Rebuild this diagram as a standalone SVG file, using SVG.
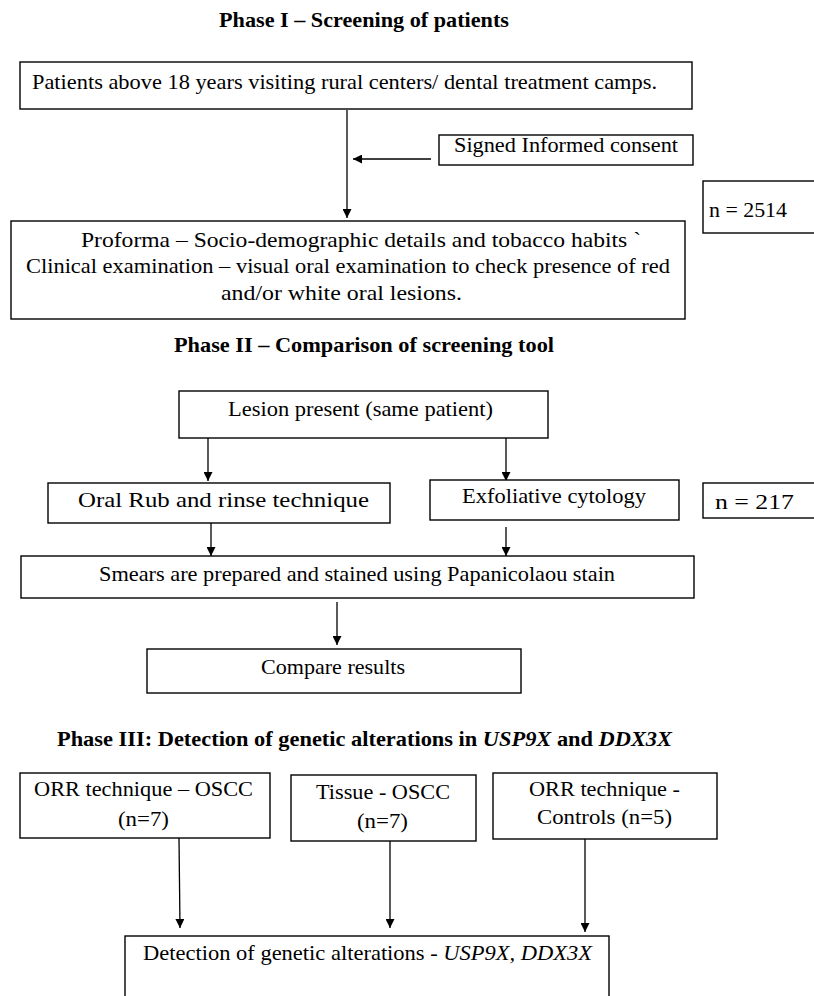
<svg xmlns="http://www.w3.org/2000/svg" width="814" height="996" viewBox="0 0 814 996">
<style>
.bx{fill:#fff;stroke:#000;stroke-width:1.4}
.t{font-family:"Liberation Serif","Times New Roman",serif;font-size:21px;fill:#000}
.h{font-family:"Liberation Serif","Times New Roman",serif;font-size:21px;font-weight:bold;fill:#000}
.ln{stroke:#000;stroke-width:1.3;fill:none}
</style>
<defs>
<marker id="ah" markerUnits="userSpaceOnUse" markerWidth="9" markerHeight="9" viewBox="0 0 10 10" refX="10" refY="5" orient="auto">
<path d="M0,0 L10,5 L0,10 z" fill="#000"/>
</marker>
</defs>
<rect width="814" height="996" fill="#fff"/>
<text class="h" x="219" y="27" textLength="290" lengthAdjust="spacingAndGlyphs">Phase I – Screening of patients</text>
<text class="h" x="174" y="352" textLength="380" lengthAdjust="spacingAndGlyphs">Phase II – Comparison of screening tool</text>
<text class="h" x="57" y="746" textLength="615" lengthAdjust="spacingAndGlyphs">Phase III: Detection of genetic alterations in <tspan font-style="italic">USP9X</tspan> and <tspan font-style="italic">DDX3X</tspan></text>

<g id="connectors">
<line class="ln" x1="347" y1="110" x2="347" y2="218" marker-end="url(#ah)"/>
<line class="ln" x1="431" y1="159" x2="353" y2="159" marker-end="url(#ah)"/>
<line class="ln" x1="208" y1="438" x2="208" y2="481" marker-end="url(#ah)"/>
<line class="ln" x1="506" y1="438" x2="506" y2="481" marker-end="url(#ah)"/>
<line class="ln" x1="211" y1="523" x2="211" y2="556" marker-end="url(#ah)"/>
<line class="ln" x1="506" y1="527" x2="506" y2="556" marker-end="url(#ah)"/>
<line class="ln" x1="337" y1="602" x2="337" y2="645" marker-end="url(#ah)"/>
<line class="ln" x1="179" y1="838" x2="180" y2="928" marker-end="url(#ah)"/>
<line class="ln" x1="390" y1="841" x2="390" y2="928" marker-end="url(#ah)"/>
<line class="ln" x1="585" y1="839" x2="585" y2="932" marker-end="url(#ah)"/>
</g>

<g id="n1"><rect class="bx" x="20" y="62" width="672" height="47"/>
<text class="t" x="32" y="89" textLength="625" lengthAdjust="spacingAndGlyphs">Patients above 18 years visiting rural centers/ dental treatment camps.</text></g>
<g id="n2"><rect class="bx" x="439" y="135" width="254" height="30"/>
<text class="t" x="454" y="152" textLength="224" lengthAdjust="spacingAndGlyphs">Signed Informed consent</text></g>
<g id="n3"><rect class="bx" x="703" y="181" width="120" height="52"/>
<text class="t" x="709" y="217" textLength="78" lengthAdjust="spacingAndGlyphs">n = 2514</text></g>
<g id="n4"><rect class="bx" x="11" y="221" width="674" height="98"/>
<text class="t" x="81" y="247" textLength="560" lengthAdjust="spacingAndGlyphs">Proforma – Socio-demographic details and tobacco habits `</text>
<text class="t" x="26" y="273" textLength="644" lengthAdjust="spacingAndGlyphs">Clinical examination – visual oral examination to check presence of red</text>
<text class="t" x="221" y="300" textLength="241" lengthAdjust="spacingAndGlyphs">and/or white oral lesions.</text></g>
<g id="n5"><rect class="bx" x="179" y="391" width="369" height="47"/>
<text class="t" x="228" y="416" textLength="265" lengthAdjust="spacingAndGlyphs">Lesion present (same patient)</text></g>
<g id="n6"><rect class="bx" x="48" y="483" width="342" height="40"/>
<text class="t" x="78" y="507" textLength="291" lengthAdjust="spacingAndGlyphs">Oral Rub and rinse technique</text></g>
<g id="n7"><rect class="bx" x="430" y="480" width="249" height="40"/>
<text class="t" x="462" y="503" textLength="184" lengthAdjust="spacingAndGlyphs">Exfoliative cytology</text></g>
<g id="n8"><rect class="bx" x="703" y="483" width="120" height="35"/>
<text class="t" x="715" y="509" textLength="79" lengthAdjust="spacingAndGlyphs">n = 217</text></g>
<g id="n9"><rect class="bx" x="21" y="556" width="673" height="42"/>
<text class="t" x="99" y="581" textLength="516" lengthAdjust="spacingAndGlyphs">Smears are prepared and stained using Papanicolaou stain</text></g>
<g id="n10"><rect class="bx" x="147" y="649" width="374" height="44"/>
<text class="t" x="261" y="674" textLength="144" lengthAdjust="spacingAndGlyphs">Compare results</text></g>
<g id="n11"><rect class="bx" x="20" y="773" width="250" height="65"/>
<text class="t" x="34" y="796" textLength="219" lengthAdjust="spacingAndGlyphs">ORR technique – OSCC</text>
<text class="t" x="118" y="826" textLength="51" lengthAdjust="spacingAndGlyphs">(n=7)</text></g>
<g id="n12"><rect class="bx" x="291" y="775" width="185" height="66"/>
<text class="t" x="316" y="799" textLength="134" lengthAdjust="spacingAndGlyphs">Tissue - OSCC</text>
<text class="t" x="357" y="828" textLength="51" lengthAdjust="spacingAndGlyphs">(n=7)</text></g>
<g id="n13"><rect class="bx" x="493" y="773" width="224" height="66"/>
<text class="t" x="529" y="796" textLength="151" lengthAdjust="spacingAndGlyphs">ORR technique -</text>
<text class="t" x="537" y="824" textLength="135" lengthAdjust="spacingAndGlyphs">Controls (n=5)</text></g>
<g id="n14"><rect class="bx" x="125" y="936" width="484" height="80"/>
<text class="t" x="143" y="960" textLength="449" lengthAdjust="spacingAndGlyphs">Detection of genetic alterations - <tspan font-style="italic">USP9X, DDX3X</tspan></text></g>
</svg>
